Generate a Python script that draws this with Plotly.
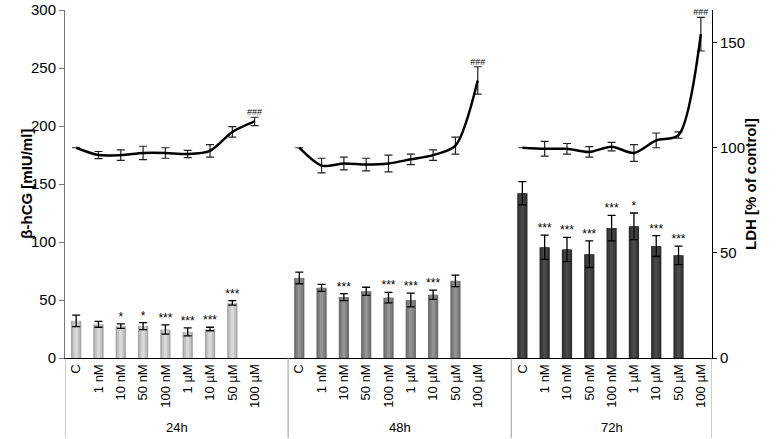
import plotly.graph_objects as go

# categories
conc = ["C", "1 nM", "10 nM", "50 nM", "100 nM", "1 µM", "10 µM", "50 µM", "100 µM"]
groups = ["24h", "48h", "72h"]

# beta-hCG [mIU/ml] (bars)
hcg_24 = [32, 29, 27.5, 27.5, 24.5, 22.5, 25, 47.5, None]
hcg_24_err = [5, 2.5, 2, 3, 4, 3.5, 1.5, 2, None]
hcg_48 = [69, 60.5, 52.5, 57.5, 52, 50, 54.5, 66.5, None]
hcg_48_err = [5, 3, 3, 3.5, 4.5, 6, 4, 5, None]
hcg_72 = [142, 95.5, 93.5, 89.5, 112, 113.5, 96.5, 88.5, None]
hcg_72_err = [10, 10.5, 10.5, 11.5, 11, 11.5, 9, 8, None]

stars_24 = ["", "", "*", "*", "***", "***", "***", "***", ""]
stars_48 = ["", "", "***", "", "***", "***", "***", "", ""]
stars_72 = ["", "***", "***", "***", "***", "*", "***", "***", ""]

# LDH [% of control] (line)
ldh_24 = [100, 96.5, 96.5, 97.5, 97.5, 97, 98.5, 107.5, 112.5]
ldh_24_err = [None, 1.7, 2.5, 3.2, 2.5, 1.7, 3, 2.5, 2]
ldh_48 = [100, 91.5, 92.5, 92, 92.5, 94.5, 96.5, 101, 132]
ldh_48_err = [None, 3.5, 3, 3, 4, 2.5, 2.5, 4, 6.5]
ldh_72 = [100, 99.5, 99.5, 98, 100.5, 97.5, 103.5, 106, 154]
ldh_72_err = [None, 3.5, 2.5, 2.5, 2, 4, 3.5, 1.5, 8]
hashes = ["", "", "", "", "", "", "", "", "###"]

hcg = [hcg_24, hcg_48, hcg_72]
hcg_err = [hcg_24_err, hcg_48_err, hcg_72_err]
stars = [stars_24, stars_48, stars_72]
ldh = [ldh_24, ldh_48, ldh_72]
ldh_err = [ldh_24_err, ldh_48_err, ldh_72_err]

edge_cols = ["#a6a6a6", "#6c6c6c", "#2e2e2e"]
mid_cols = ["#c4c4c4", "#7f7f7f", "#3c3c3c"]
hi_cols = ["#dadada", "#939393", "#4a4a4a"]

FONT = "Liberation Sans, Arial, sans-serif"
fig = go.Figure()

tickvals, ticktext = [], []
for g in range(3):
    xs = [g * 10 + i for i in range(len(conc))]
    tickvals += xs
    ticktext += conc
    # bars drawn as layered strips to imitate the shaded look
    fig.add_trace(go.Bar(x=xs, y=hcg[g], width=0.46, marker=dict(color=edge_cols[g], line_width=0),
                         hoverinfo="skip"))
    fig.add_trace(go.Bar(x=xs, y=hcg[g], width=0.32, marker=dict(color=mid_cols[g], line_width=0),
                         hoverinfo="skip"))
    fig.add_trace(go.Bar(x=xs, y=hcg[g], width=0.14, marker=dict(color=hi_cols[g], line_width=0),
                         error_y=dict(type="data", array=hcg_err[g], color="black", thickness=1.3, width=4),
                         hoverinfo="skip"))
    tops = [v + e if v is not None else None for v, e in zip(hcg[g], hcg_err[g])]
    fig.add_trace(go.Scatter(x=xs, y=tops, mode="text", text=stars[g], textposition="top center",
                             textfont=dict(size=12, color="black", family=FONT), cliponaxis=False))
    # LDH line
    fig.add_trace(go.Scatter(x=xs, y=ldh[g], yaxis="y2", mode="lines",
                             line=dict(color="black", width=2.5, shape="spline", smoothing=0.8),
                             error_y=dict(type="data", array=ldh_err[g], color="#222", thickness=1.2, width=4)))
    ltops = [v + (e or 0) for v, e in zip(ldh[g], ldh_err[g])]
    fig.add_trace(go.Scatter(x=xs, y=ltops, yaxis="y2", mode="text", text=hashes, textposition="top center",
                             textfont=dict(size=9, color="black", family=FONT), cliponaxis=False))
    # group label
    fig.add_annotation(x=g * 10 + 4.5 if g < 2 else g * 10 + 4, y=-0.2, xref="x", yref="paper",
                       text=groups[g], showarrow=False, font=dict(size=13, color="black", family=FONT),
                       yanchor="middle")

for sx in [-0.5, 9.5, 19.5, 28.5]:
    fig.add_shape(type="line", x0=sx, x1=sx, xref="x", y0=0, y1=-0.23, yref="paper",
                  line=dict(color="#999999", width=1))

fig.add_annotation(x=-0.077, y=0.5, xref="paper", yref="paper", text="<b>β-hCG [mIU/ml]</b>",
                   textangle=-90, showarrow=False, font=dict(size=15, color="black", family=FONT))
fig.add_annotation(x=1.075, y=0.5, xref="paper", yref="paper", text="<b>LDH [% of control]</b>",
                   textangle=-90, showarrow=False, font=dict(size=15, color="black", family=FONT))

fig.update_layout(
    width=777, height=439,
    margin=dict(l=65, r=65, t=10, b=81),
    paper_bgcolor="white", plot_bgcolor="white",
    showlegend=False, barmode="overlay",
    font=dict(family=FONT, color="black"),
    xaxis=dict(range=[-0.5, 28.5], tickvals=tickvals, ticktext=ticktext, tickangle=-90,
               tickfont=dict(size=13), showline=True, linecolor="black", linewidth=1.2,
               ticks="", showgrid=False, zeroline=False, automargin=False),
    yaxis=dict(range=[0, 300], tickvals=[0, 50, 100, 150, 200, 250, 300], tickfont=dict(size=15),
               showline=True, linecolor="#777777", linewidth=1, ticks="outside", ticklen=5,
               tickcolor="#777777", showgrid=False, zeroline=False, automargin=False),
    yaxis2=dict(range=[0, 165.5], tickvals=[0, 50, 100, 150], tickfont=dict(size=15), overlaying="y",
                side="right", showline=True, linecolor="black", linewidth=1, ticks="outside", ticklen=4,
                tickcolor="black", showgrid=False, zeroline=False, automargin=False),
)

# drop the default 8px page margin so the figure fills the window
fig.write_html("out.html", config={"displayModeBar": False},
               post_script="document.body.style.margin='0';")
